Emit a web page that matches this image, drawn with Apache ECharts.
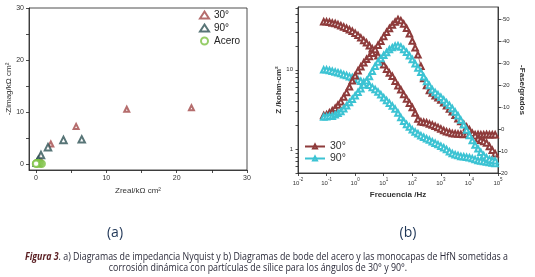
<!DOCTYPE html>
<html>
<head>
<meta charset="utf-8">
<script src="https://cdn.jsdelivr.net/npm/echarts@6/dist/echarts.min.js"></script>
<style>
  html, body { margin: 0; padding: 0; background: #fff; }
  #chart { width: 535px; height: 277px; }
</style>
</head>
<body>
<div id="chart"></div>
<script>
// (a) Nyquist, [Zreal, -Zimag] in kOhm cm2
const nyq30 = [[22.1, 10.8], [12.9, 10.5], [5.7, 7.2], [2.1, 3.8], [0.5, 1.1]];
const nyq90 = [[6.5, 4.7], [3.9, 4.6], [1.7, 3.2], [0.7, 1.7], [0.3, 0.7], [0.1, 0.2]];
const nyqAcero = [[0.8, 0.0], [0.55, 0.05], [0.35, 0.1], [0.2, 0.12], [0.05, 0.08], [0.0, 0.0]];

// (b) Bode
const freq = [
  0.0794, 0.1, 0.126, 0.158, 0.2, 0.251, 0.316, 0.398, 0.501, 0.631, 0.794,
  1, 1.26, 1.58, 2, 2.51, 3.16, 3.98, 5.01, 6.31, 7.94,
  10, 12.6, 15.8, 20, 25.1, 31.6, 39.8, 50.1, 63.1, 79.4,
  100, 126, 158, 200, 251, 316, 398, 501, 631, 794,
  1000, 1260, 1580, 2000, 2510, 3160, 3980, 5010, 6310, 7940,
  10000, 12600, 15800, 20000, 25100, 31600, 39800, 50100, 63100, 79400
];
const z30 = [
  40.5, 40.3, 39.8, 39.0, 38.4, 37.2, 36.0, 34.8, 33.5, 32.0, 30.6,
  29.0, 27.2, 25.3, 23.5, 21.9, 20.1, 18.4, 16.8, 15.1, 13.4,
  11.6, 10.2, 9.1, 8.3, 7.2, 6.3, 5.6, 4.9, 4.3, 3.8,
  3.35, 2.85, 2.4, 2.22, 2.18, 2.15, 2.08, 2.02, 1.95, 1.88,
  1.80, 1.72, 1.66, 1.62, 1.58, 1.56, 1.55, 1.54, 1.53, 1.54,
  1.52, 1.53, 1.52, 1.53, 1.52, 1.52, 1.53, 1.52, 1.52, 1.52
];
const fase30 = [
  -6.2, -6.5, -7.4, -8.4, -9.5, -11.0, -12.5, -14.6, -16.7, -19.3, -22.0,
  -24.3, -26.6, -28.4, -30.2, -31.8, -33.1, -34.5, -36.3, -38.2, -40.0,
  -42.2, -44.1, -45.8, -47.4, -48.8, -49.9, -49.4, -47.9, -45.9, -43.4,
  -40.1, -37.0, -33.8, -28.6, -23.0, -19.9, -17.6, -16.4, -15.2, -14.3,
  -13.2, -12.0, -10.6, -9.2, -7.9, -6.3, -4.7, -3.4, -2.2, -1.0,
  0.3, 1.9, 3.0, 4.4, 5.1, 5.6, 6.3, 7.9, 9.6, 11.2
];
const z90 = [
  10.0, 10.0, 9.8, 9.6, 9.4, 9.2, 9.0, 8.7, 8.5, 8.2, 8.0,
  7.7, 7.5, 7.2, 7.0, 6.75, 6.4, 6.0, 5.65, 5.25, 4.85,
  4.45, 4.1, 3.8, 3.5, 3.2, 2.85, 2.5, 2.25, 2.05, 1.9,
  1.75, 1.65, 1.56, 1.48, 1.41, 1.35, 1.30, 1.24, 1.19, 1.14,
  1.09, 1.04, 0.99, 0.93, 0.88, 0.85, 0.83, 0.81, 0.80, 0.79,
  0.78, 0.76, 0.74, 0.72, 0.71, 0.70, 0.69, 0.68, 0.67, 0.66
];
const fase90 = [
  -5.5, -5.6, -5.8, -5.9, -6.5, -7.2, -8.0, -9.3, -10.6, -12.1, -13.6,
  -15.2, -16.8, -18.4, -20.1, -22.0, -23.9, -26.3, -28.6, -30.6, -32.2,
  -33.6, -34.9, -36.2, -37.1, -37.8, -38.0, -37.4, -36.3, -35.0, -33.4,
  -31.7, -29.7, -27.8, -25.9, -23.8, -21.7, -19.8, -17.9, -16.7, -15.6,
  -14.5, -13.3, -12.0, -10.8, -9.4, -7.8, -6.1, -4.1, -2.0, 0.4,
  2.9, 5.2, 7.3, 9.0, 10.6, 12.0, 13.1, 13.8, 14.2, 14.4
];

// ticks
const nyqLabels = [0, 10, 20, 30];
const nyqTicks = [0, 5, 10, 15, 20, 25, 30];
const zLabels = [1, 10];
const zTicks = [0.5, 0.6, 0.7, 0.8, 0.9, 1, 2, 3, 4, 5, 6, 7, 8, 9, 10, 20, 30, 40, 50, 60];
const faseLabels = [-50, -40, -30, -20, -10, 0, 10, 20];
const freqLabels = [0.01, 0.1, 1, 10, 100, 1000, 10000, 100000];

const caption1a = 'Figura 3';
const caption1b = '. a) Diagramas de impedancia Nyquist y b) Diagramas de bode del acero y las monocapas de HfN sometidas a';
const caption2 = 'corrosión dinámica con partículas de sílice para los ángulos de 30° y 90°.';

const c30 = '#8e3b3b';
const c90 = '#3cc3d3';
const font = 'Liberation Sans';
const capFont = 'Open Sans';

const pair = (xs, ys) => xs.map((x, i) => [x, ys[i]]);

// squeeze the caption to the width of the original (condensed face)
const ctx = document.createElement('canvas').getContext('2d');
ctx.font = 'italic bold 10px "' + capFont + '"';
let capW = ctx.measureText(caption1a).width;
ctx.font = '10px "' + capFont + '"';
capW += ctx.measureText(caption1b).width;
const capScale = 483 / capW;

const chart = echarts.init(document.getElementById('chart'), null, { renderer: 'canvas' });

const axisCommon = {
  axisLine: { onZero: false, lineStyle: { color: '#222', width: 0.8 } },
  axisTick: { length: 3, lineStyle: { color: '#222', width: 0.8 } },
  splitLine: { show: false },
};

const bodeLine = (name, yIdx, data, color) => ({
  name, type: 'line', xAxisIndex: 1, yAxisIndex: yIdx, data,
  symbol: 'emptyTriangle', symbolSize: 5.5, color,
  itemStyle: { borderWidth: 0.7 }, lineStyle: { width: 0.7 },
});

chart.setOption({
  backgroundColor: '#fff',
  animation: false,
  textStyle: { fontFamily: font },
  grid: [
    { left: 29, top: 8, width: 218, height: 162, show: true, borderColor: '#222', borderWidth: 0.8 },
    { left: 298, top: 7, width: 200, height: 166, show: true, borderColor: '#222', borderWidth: 0.8 },
  ],
  xAxis: [
    {
      ...axisCommon,
      gridIndex: 0, type: 'value', min: -1, max: 30,
      axisTick: { ...axisCommon.axisTick, customValues: nyqTicks },
      axisLabel: { customValues: nyqLabels, fontSize: 7, color: '#333', margin: 5 },
      name: 'Zreal/kΩ cm²', nameLocation: 'middle', nameGap: 17,
      nameTextStyle: { fontSize: 8, color: '#333' },
    },
    {
      ...axisCommon,
      gridIndex: 1, type: 'log', logBase: 10, min: 0.01, max: 100000,
      axisTick: { ...axisCommon.axisTick, customValues: freqLabels },
      axisLabel: {
        customValues: freqLabels, color: '#333', margin: 4,
        formatter: (v) => '{b|10}{e|' + Math.round(Math.log10(v)) + '}',
        rich: {
          b: { fontSize: 6, verticalAlign: 'bottom', lineHeight: 9 },
          e: { fontSize: 4.5, verticalAlign: 'top', lineHeight: 9 },
        },
      },
      name: 'Frecuencia /Hz', nameLocation: 'middle', nameGap: 15,
      nameTextStyle: { fontSize: 8, fontWeight: 'bold', color: '#333' },
    },
  ],
  yAxis: [
    {
      ...axisCommon,
      gridIndex: 0, type: 'value', min: -1.2, max: 30,
      axisTick: { ...axisCommon.axisTick, customValues: nyqTicks },
      axisLabel: { customValues: nyqLabels, fontSize: 7, color: '#333', margin: 5 },
      name: '-Zimag/kΩ cm²', nameLocation: 'middle', nameGap: 16,
      nameTextStyle: { fontSize: 8, color: '#333' },
    },
    {
      ...axisCommon,
      gridIndex: 1, type: 'log', logBase: 10, min: 0.5, max: 62, position: 'left',
      axisTick: { ...axisCommon.axisTick, customValues: zTicks, length: 2.5 },
      axisLabel: { customValues: zLabels, fontSize: 6, color: '#333', margin: 5 },
      name: 'Z /kohm·cm²', nameLocation: 'middle', nameGap: 14,
      nameTextStyle: { fontSize: 8, fontWeight: 'bold', color: '#333' },
    },
    {
      ...axisCommon,
      gridIndex: 1, type: 'value', min: -55.6, max: 20, inverse: true, position: 'right',
      axisTick: { ...axisCommon.axisTick, customValues: faseLabels },
      axisLabel: { customValues: faseLabels, fontSize: 6, color: '#333', margin: 3 },
      name: '-Fase/grados', nameLocation: 'middle', nameGap: 20, nameRotate: -90,
      nameTextStyle: { fontSize: 8, fontWeight: 'bold', color: '#333' },
    },
  ],
  legend: [
    {
      data: ['30°', '90°', 'Acero'], orient: 'vertical', left: 199, top: 10,
      itemWidth: 9, itemHeight: 7, itemGap: 3, padding: 0,
      textStyle: { fontSize: 10, color: '#222', lineHeight: 8.5 },
    },
    {
      data: ['B30', 'B90'], orient: 'vertical', left: 304, top: 141,
      itemWidth: 20, itemHeight: 5, itemGap: 1, padding: 0,
      formatter: (n) => ({ B30: '30°', B90: '90°' })[n],
      textStyle: { fontSize: 10.5, color: '#333', lineHeight: 9 },
    },
  ],
  series: [
    {
      name: '30°', type: 'scatter', xAxisIndex: 0, yAxisIndex: 0, data: nyq30,
      symbol: 'emptyTriangle', symbolSize: 5, color: '#a34848',
      itemStyle: { borderWidth: 0.8 },
    },
    {
      name: '90°', type: 'scatter', xAxisIndex: 0, yAxisIndex: 0, data: nyq90,
      symbol: 'emptyTriangle', symbolSize: 6.5, color: '#2e5355',
      itemStyle: { borderWidth: 1.3 },
    },
    {
      name: 'Acero', type: 'scatter', xAxisIndex: 0, yAxisIndex: 0, data: nyqAcero,
      symbol: 'emptyCircle', symbolSize: 6.5, color: '#7cc142',
      itemStyle: { borderWidth: 1 },
    },
    bodeLine('B30', 1, pair(freq, z30), c30),
    bodeLine('B90', 1, pair(freq, z90), c90),
    bodeLine('B30', 2, pair(freq, fase30), c30),
    bodeLine('B90', 2, pair(freq, fase90), c90),
  ],
  graphic: [
    {
      type: 'text', x: 115, y: 233,
      style: { text: '(a)', fontSize: 14, fontFamily: capFont, fill: '#1e3556', align: 'center', verticalAlign: 'middle' },
    },
    {
      type: 'text', x: 408, y: 233,
      style: { text: '(b)', fontSize: 14, fontFamily: capFont, fill: '#1e3556', align: 'center', verticalAlign: 'middle' },
    },
    {
      type: 'text', x: 266.5, y: 257, scaleX: capScale,
      style: {
        text: '{b|' + caption1a + '}' + caption1b,
        fontSize: 10, fontFamily: capFont, fill: '#2b2b3a', align: 'center', verticalAlign: 'middle',
        rich: { b: { fontSize: 10, fontFamily: capFont, fontWeight: 'bold', fontStyle: 'italic', fill: '#5a1e22' } },
      },
    },
    {
      type: 'text', x: 258, y: 268.5, scaleX: capScale,
      style: {
        text: caption2,
        fontSize: 10, fontFamily: capFont, fill: '#2b2b3a', align: 'center', verticalAlign: 'middle',
      },
    },
  ],
});
</script>
</body>
</html>
